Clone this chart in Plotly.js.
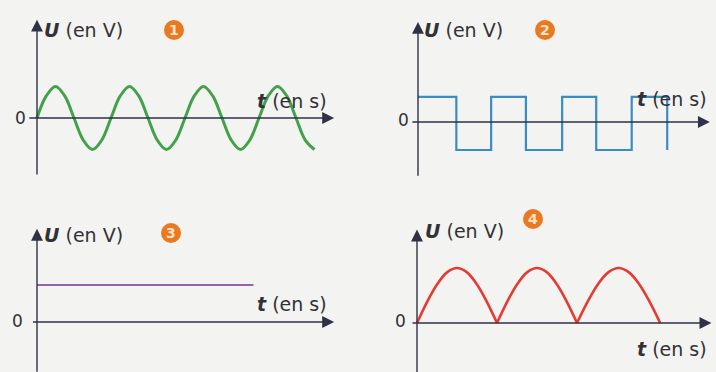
<!DOCTYPE html>
<html><head><meta charset="utf-8">
<script src="https://cdn.plot.ly/plotly-3.0.1.min.js"></script>
<style>html,body{margin:0;padding:0;background:#f3f3f1;}#chart{width:716px;height:372px;}</style>
</head><body><div id="chart"></div>
<script>
// ---- Data ----
// Panel 1: alternating sinusoidal voltage (t in ms, U in V)
const sineT = [0,2.5,5,7.5,10,12.5,15,17.5,20,22.5,25,27.5,30,32.5,35,37.5,40,42.5,45,47.5,50,52.5,55,57.5,60,62.5,65,67.5,70,72.5,75];
const sineU = [0,3.5,5,3.5,0,-3.5,-5,-3.5,0,3.5,5,3.5,0,-3.5,-5,-3.5,0,3.5,5,3.5,0,-3.5,-5,-3.5,0,3.5,5,3.5,0,-3.5,-5];
// Panel 2: square voltage (switching instants and levels)
const squareT = [0,5.4,10.3,15.2,20.3,25.1,30.1,35.1];
const squareU = [3.6,-4,3.6,-4,3.6,-4,3.6,-4];
// Panel 3: constant voltage
const dcT = [0,58.5];
const dcU = [6,6];
// Panel 4: rectified sine (three arches)
const rectT = [0,1.25,2.5,3.75,5,6.25,7.5,8.75,10,null,10,11.25,12.5,13.75,15,16.25,17.5,18.75,20,null,20,21.3,22.6,23.9,25.2,26.5,27.8,29.1,30.4];
const rectU = [0,1.9,3.5,4.6,5,4.6,3.5,1.9,0,null,0,1.9,3.5,4.6,5,4.6,3.5,1.9,0,null,0,1.9,3.5,4.6,5,4.6,3.5,1.9,0];
// Labels
const panelNumbers = ['1','2','3','4'];
const yLabel = '<b><i>U</i></b> (en V)';
const xLabel = '<b><i>t</i></b> (en s)';
const zeroLabel = '0';

// ---- Layout ----
const W = 716, H = 372;
const FONT = 'DejaVu Sans, sans-serif';
const AX = '#2f3247', TXT = '#323236';
const panels = [
  {ox:37,  oy:118, sx:3.7, sy:6.3,  box:[0,358,0,186],   xa:[-2.5,80.3], ya:[-9.2,15.6],
   uLab:[42,30], zero:[20,118], circ:[174,30], tLab:[329,101]},
  {ox:418, oy:122, sx:7.1, sy:7,    box:[358,716,0,186], xa:[-1,41.1],   ya:[-7.9,14.3],
   uLab:[422,30], zero:[403,120], circ:[545,30], tLab:[709,99]},
  {ox:37,  oy:322, sx:3.7, sy:6.17, box:[0,358,186,372], xa:[-1.5,80.3], ya:[-8.3,15.1],
   uLab:[42,235], zero:[17,321], circ:[171,233], tLab:[329,304]},
  {ox:417, oy:323, sx:8,   sy:11,   box:[358,716,186,372], xa:[-0.75,36.8], ya:[-4.6,8.5],
   uLab:[423,231], zero:[400,321], circ:[533,219], tLab:[709,349]}
];
const px = v => v / W, py = v => 1 - v / H;

const layout = {
  width: W, height: H, margin:{l:0,r:0,t:0,b:0},
  paper_bgcolor:'#f3f3f1', plot_bgcolor:'rgba(0,0,0,0)',
  showlegend:false, annotations:[], shapes:[]
};
panels.forEach((p, i) => {
  const n = i === 0 ? '' : String(i + 1);
  const [L, R, T, B] = p.box;
  layout['xaxis' + n] = {visible:false, fixedrange:true, anchor:'y' + n,
    domain:[L / W, R / W], range:[(L - p.ox) / p.sx, (R - p.ox) / p.sx]};
  layout['yaxis' + n] = {visible:false, fixedrange:true, anchor:'x' + n,
    domain:[1 - B / H, 1 - T / H], range:[(p.oy - B) / p.sy, (p.oy - T) / p.sy]};
  const xr = 'x' + n, yr = 'y' + n;
  // axis arrows
  layout.annotations.push({xref:xr, yref:yr, axref:xr, ayref:yr, x:p.xa[1], y:0, ax:p.xa[0], ay:0,
    text:'', showarrow:true, arrowhead:2, arrowsize:1.7, arrowwidth:1.4, arrowcolor:AX});
  layout.annotations.push({xref:xr, yref:yr, axref:xr, ayref:yr, x:0, y:p.ya[1], ax:0, ay:p.ya[0],
    text:'', showarrow:true, arrowhead:2, arrowsize:1.7, arrowwidth:1.4, arrowcolor:AX});
  // texts
  layout.annotations.push({xref:'paper', yref:'paper', x:px(p.uLab[0]), y:py(p.uLab[1]),
    xanchor:'left', yanchor:'middle', showarrow:false, text:yLabel, font:{family:FONT, size:19, color:TXT}});
  layout.annotations.push({xref:'paper', yref:'paper', x:px(p.tLab[0]), y:py(p.tLab[1]),
    xanchor:'right', yanchor:'middle', showarrow:false, text:xLabel, font:{family:FONT, size:19, color:TXT}});
  layout.annotations.push({xref:'paper', yref:'paper', x:px(p.zero[0]), y:py(p.zero[1]),
    xanchor:'center', yanchor:'middle', showarrow:false, text:zeroLabel, font:{family:FONT, size:17, color:TXT}});
  layout.shapes.push({type:'circle', xref:'paper', yref:'paper', xsizemode:'pixel', ysizemode:'pixel',
    xanchor:px(p.circ[0]), yanchor:py(p.circ[1]), x0:-10, x1:10, y0:-10, y1:10,
    fillcolor:'#e97a22', line:{width:0}});
  layout.annotations.push({xref:'paper', yref:'paper', x:px(p.circ[0]), y:py(p.circ[1]),
    xanchor:'center', yanchor:'middle', showarrow:false, text:'<b>' + panelNumbers[i] + '</b>',
    font:{family:FONT, size:14, color:'#fbe3c8'}});
});

const data = [
  {x:sineT, y:sineU, xaxis:'x', yaxis:'y', mode:'lines', line:{shape:'spline', color:'#43a04b', width:3}, hoverinfo:'skip'},
  {x:squareT, y:squareU, xaxis:'x2', yaxis:'y2', mode:'lines', line:{shape:'hv', color:'#3a8dc4', width:2.2}, hoverinfo:'skip'},
  {x:dcT, y:dcU, xaxis:'x3', yaxis:'y3', mode:'lines', line:{color:'#9462b4', width:2.2}, hoverinfo:'skip'},
  {x:rectT, y:rectU, xaxis:'x4', yaxis:'y4', mode:'lines', connectgaps:false, line:{shape:'spline', color:'#e23c35', width:2.6}, hoverinfo:'skip'}
];
Plotly.newPlot('chart', data, layout, {staticPlot:true, displayModeBar:false});
</script></body></html>
